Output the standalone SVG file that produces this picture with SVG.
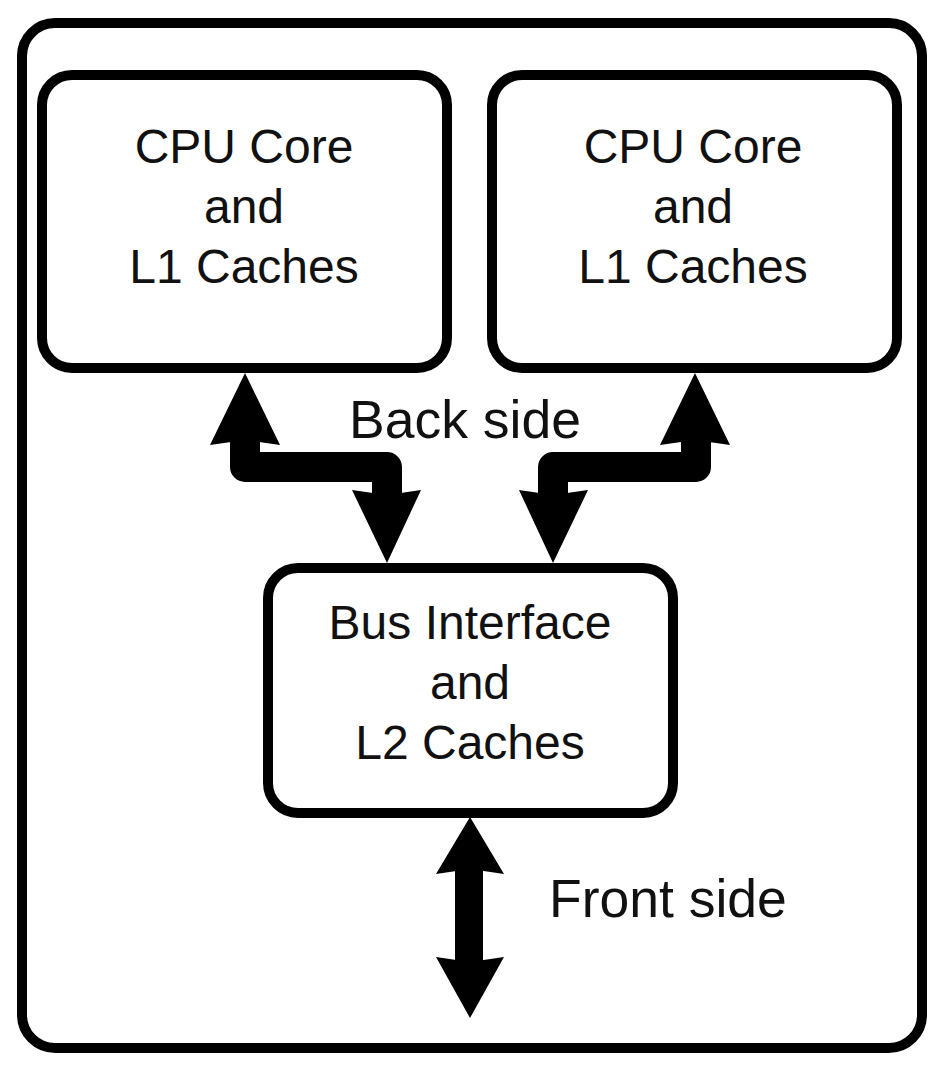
<svg xmlns="http://www.w3.org/2000/svg" width="940" height="1070" viewBox="0 0 940 1070">
<style>
.box{fill:#fff;stroke:#000;stroke-width:10}
.t{font-family:"Liberation Sans",Arial,sans-serif;font-size:48px;fill:#111;text-anchor:middle}
.lbl{font-family:"Liberation Sans",Arial,sans-serif;font-size:53.5px;fill:#111}
.shaft{fill:none;stroke:#000;stroke-width:30;stroke-linejoin:round;stroke-linecap:butt}
.head{fill:#000}
</style>
<rect width="940" height="1070" fill="#fff"/>
<g id="outer"><rect class="box" x="22" y="23" width="900" height="1025" rx="33"/></g>
<g id="cpu1">
<rect class="box" x="42" y="75" width="405" height="293" rx="30"/>
<text class="t" x="244" y="163">CPU Core</text>
<text class="t" x="244" y="223">and</text>
<text class="t" x="244" y="283">L1 Caches</text>
</g>
<g id="cpu2">
<rect class="box" x="492" y="75" width="405" height="293" rx="30"/>
<text class="t" x="693" y="163">CPU Core</text>
<text class="t" x="693" y="223">and</text>
<text class="t" x="693" y="283">L1 Caches</text>
</g>
<g id="bus">
<rect class="box" x="268" y="568" width="405" height="245" rx="30"/>
<text class="t" x="470" y="639">Bus Interface</text>
<text class="t" x="470" y="699">and</text>
<text class="t" x="470" y="759">L2 Caches</text>
</g>
<g id="connectors">
<polyline class="shaft" points="245,438 245,467 387,467 387,497"/>
<polygon class="head" points="245,373 280,445 245,440 210,445"/>
<polygon class="head" points="387,563 421,490 387,495 352,490"/>
<polyline class="shaft" points="696,438 696,467 553,467 553,497"/>
<polygon class="head" points="695,373 730,445 695,440 660,445"/>
<polygon class="head" points="553,563 588,490 553,495 519,490"/>
<line x1="469" y1="866" x2="469" y2="965" stroke="#000" stroke-width="28"/>
<polygon class="head" points="470,817 504,874 470,869 436,874"/>
<polygon class="head" points="470,1018 436,957 470,962 504,957"/>
</g>
<g id="labels">
<text class="lbl" x="465" y="438" text-anchor="middle">Back side</text>
<text class="lbl" x="549" y="917">Front side</text>
</g>
</svg>
